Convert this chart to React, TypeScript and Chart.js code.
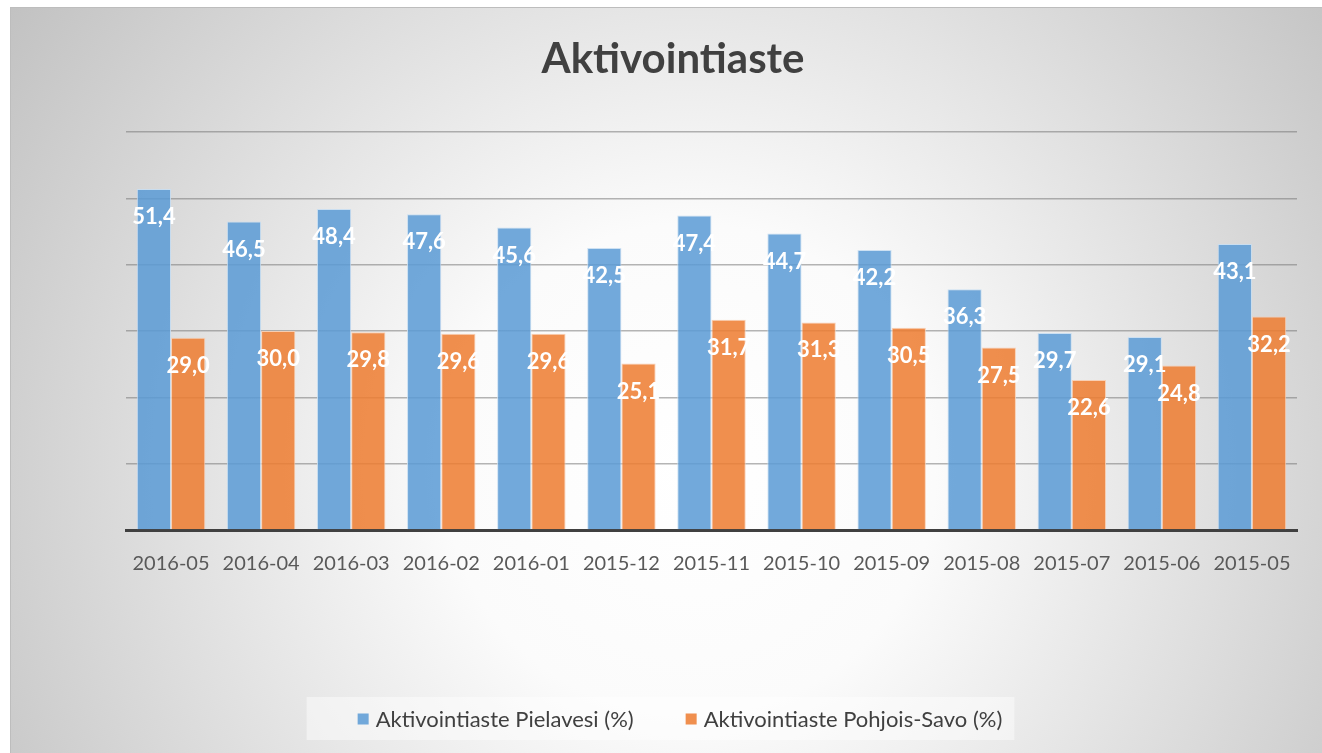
import React, { useEffect, useRef } from "react";
import { Chart, registerables } from "chart.js";

Chart.register(...registerables);

const categories = [
  "2016-05", "2016-04", "2016-03", "2016-02", "2016-01", "2015-12", "2015-11",
  "2015-10", "2015-09", "2015-08", "2015-07", "2015-06", "2015-05",
];
const pielavesi = [51.4, 46.5, 48.4, 47.6, 45.6, 42.5, 47.4, 44.7, 42.2, 36.3, 29.7, 29.1, 43.1];
const pohjoisSavo = [29.0, 30.0, 29.8, 29.6, 29.6, 25.1, 31.7, 31.3, 30.5, 27.5, 22.6, 24.8, 32.2];
const seriesNames = ["Aktivointiaste Pielavesi (%)", "Aktivointiaste Pohjois-Savo (%)"];
const titleText = "Aktivointiaste";
const yMin = 0;
const yMax = 60;
const yStep = 10;

const FONT = "Lato, 'Open Sans', sans-serif";

const backgroundPlugin = {
  id: "bgPanel",
  beforeDraw(chart: any) {
    const { ctx, width, height } = chart;
    ctx.save();
    ctx.fillStyle = "#ffffff";
    ctx.fillRect(0, 0, width, height);
    const g = ctx.createRadialGradient(690, 470, 0, 690, 470, 820);
    g.addColorStop(0, "#ffffff");
    g.addColorStop(0.3, "#fbfbfb");
    g.addColorStop(1, "#c2c2c2");
    ctx.fillStyle = g;
    ctx.fillRect(10, 7, width - 10, height - 7);
    ctx.strokeStyle = "#bdbdbd";
    ctx.lineWidth = 1;
    ctx.strokeRect(10.5, 7.5, width - 10, height - 7);
    ctx.restore();
  },
};

const valueLabelPlugin = {
  id: "valueLabels",
  afterDatasetsDraw(chart: any) {
    const { ctx } = chart;
    ctx.save();
    ctx.font = `bold 22px ${FONT}`;
    ctx.fillStyle = "#ffffff";
    ctx.textAlign = "center";
    ctx.textBaseline = "middle";
    chart.data.datasets.forEach((ds: any, di: number) => {
      const meta = chart.getDatasetMeta(di);
      meta.data.forEach((bar: any, i: number) => {
        const v = ds.data[i] as number;
        const txt = v.toFixed(1).replace(".", ",");
        ctx.fillText(txt, bar.x, bar.y + 28);
      });
    });
    ctx.restore();
  },
};

const legendPlugin = {
  id: "customLegend",
  afterDraw(chart: any) {
    const { ctx } = chart;
    ctx.save();
    ctx.font = `22px ${FONT}`;
    const box = 11;
    const gap = 7;
    const itemGap = 52;
    const items = chart.data.datasets.map((ds: any) => ({
      label: ds.label as string,
      color: ds.backgroundColor as string,
      w: ctx.measureText(ds.label).width,
    }));
    const total = items.reduce((s: number, it: any) => s + box + gap + it.w, 0) + itemGap * (items.length - 1);
    const cy = 719;
    let x = 680 - total / 2;
    const boxLeft = x - 51;
    const boxRight = x + total + 12;
    ctx.fillStyle = "rgba(255,255,255,0.45)";
    ctx.fillRect(boxLeft, 697, boxRight - boxLeft, 43);
    items.forEach((it: any) => {
      ctx.fillStyle = it.color;
      ctx.fillRect(x, cy - box / 2, box, box);
      ctx.fillStyle = "#404040";
      ctx.textAlign = "left";
      ctx.textBaseline = "middle";
      ctx.fillText(it.label, x + box + gap, cy + 1);
      x += box + gap + it.w + itemGap;
    });
    ctx.restore();
  },
};

export default function App() {
  const ref = useRef<HTMLCanvasElement | null>(null);
  useEffect(() => {
    if (!ref.current) return;
    const chart = new Chart(ref.current, {
      type: "bar",
      data: {
        labels: categories,
        datasets: [
          {
            label: seriesNames[0],
            data: pielavesi,
            backgroundColor: "rgba(91,155,213,0.86)",
            borderColor: "rgba(200,222,242,0.9)",
            borderWidth: 1,
            categoryPercentage: 0.76,
            barPercentage: 1,
          },
          {
            label: seriesNames[1],
            data: pohjoisSavo,
            backgroundColor: "rgba(237,125,49,0.86)",
            borderColor: "rgba(250,205,175,0.9)",
            borderWidth: 1,
            categoryPercentage: 0.76,
            barPercentage: 1,
          },
        ],
      },
      options: {
        responsive: false,
        animation: false,
        devicePixelRatio: 1,
        layout: { padding: { left: 24, right: 0, top: 0, bottom: 155 } },
        plugins: {
          legend: { display: false },
          tooltip: { enabled: false },
          title: {
            display: true,
            text: titleText,
            color: "#404040",
            font: { family: FONT, size: 42, weight: "bold" },
            padding: { top: 34, bottom: 47.6 },
          },
        },
        scales: {
          x: {
            grid: { display: false, drawTicks: false },
            border: { display: true, color: "#404040", width: 3 },
            ticks: {
              color: "#595959",
              font: { family: FONT, size: 20 },
              padding: 22,
              autoSkip: false,
              maxRotation: 0,
            },
          },
          y: {
            min: yMin,
            max: yMax,
            ticks: { display: false, stepSize: yStep },
            grid: { color: "rgba(120,120,120,0.55)", lineWidth: 1.5, drawTicks: false },
            border: { display: false },
            afterFit: (s: any) => { s.width = 102; },
          },
          y2: {
            position: "right",
            min: yMin,
            max: yMax,
            ticks: { display: false },
            grid: { display: false, drawTicks: false },
            border: { display: false },
            afterFit: (s: any) => { s.width = 25; },
          },
        },
      } as any,
      plugins: [backgroundPlugin, valueLabelPlugin, legendPlugin],
    });
    return () => chart.destroy();
  }, []);
  return (
    <canvas
      ref={ref}
      width={1322}
      height={753}
      style={{ position: "absolute", left: 0, top: 0, width: 1322, height: 753 }}
    />
  );
}
